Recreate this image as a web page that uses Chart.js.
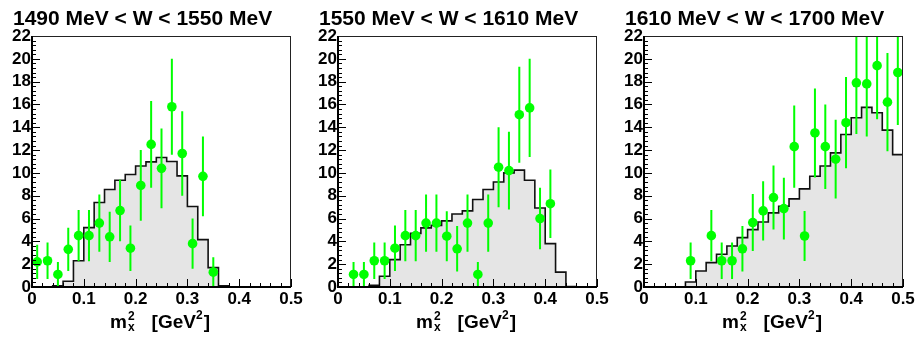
<!DOCTYPE html>
<html>
<head>
<meta charset="utf-8">
<script src="https://cdn.jsdelivr.net/npm/chart.js@4.4.1/dist/chart.umd.min.js"></script>
<style>
  body { margin: 0; background: #fff; }
  #wrap { position: relative; width: 918px; height: 341px; }
  .panel { position: absolute; top: 0; width: 306px; height: 341px; }
</style>
</head>
<body>
<div id="wrap">
  <div class="panel" style="left:0px"><canvas id="c0" width="306" height="341"></canvas></div>
  <div class="panel" style="left:306px"><canvas id="c1" width="306" height="341"></canvas></div>
  <div class="panel" style="left:612px"><canvas id="c2" width="306" height="341"></canvas></div>
</div>
<script>
// bin edges of the m_x^2 histograms (GeV^2)
const binEdges = [0, 0.02, 0.04, 0.06, 0.08, 0.1, 0.12, 0.14, 0.16, 0.18, 0.2, 0.22, 0.24,
                  0.26, 0.28, 0.3, 0.32, 0.34, 0.36, 0.38, 0.4, 0.42, 0.44, 0.46, 0.48, 0.5];
const xTickLabels = ['0', '0.1', '0.2', '0.3', '0.4', '0.5'];
const yTickLabels = ['0', '2', '4', '6', '8', '10', '12', '14', '16', '18', '20', '22'];

const titles = ['1490 MeV < W < 1550 MeV', '1550 MeV < W < 1610 MeV', '1610 MeV < W < 1700 MeV'];

// simulated spectra (grey histograms), one value per bin
const simW1 = [0, 0, 0.1, 0.5, 2.3, 5.2, 7.4, 8.55, 9.36, 9.86, 10.6, 10.97, 11.35, 11.0, 9.74,
               7.05, 4.15, 1.7, 0.1, 0, 0, 0, 0, 0, 0];
const simW2 = [0, 0, 0, 0.15, 0.94, 2.4, 3.7, 4.7, 5.18, 5.4, 5.8, 6.4, 6.67, 7.67, 8.55,
               9.2, 10.0, 10.24, 9.36, 6.93, 3.8, 1.3, 0.05, 0, 0];
const simW3 = [0, 0, 0, 0, 0.44, 1.4, 2.14, 2.87, 3.6, 4.33, 5.03, 5.7, 6.5, 7.08, 7.72,
               8.6, 9.71, 10.6, 11.76, 13.37, 14.83, 15.74, 15.27, 13.75, 11.6];

// measured points (green) with errors
const dataXW1 = [0.01, 0.03, 0.05, 0.07, 0.09, 0.11, 0.13, 0.15, 0.17, 0.19, 0.21, 0.23, 0.25, 0.27, 0.29, 0.31, 0.33, 0.35];
const dataYW1 = [2.2, 2.3, 1.1, 3.3, 4.5, 4.5, 5.6, 4.4, 6.7, 3.4, 8.9, 12.5, 10.4, 15.8, 11.7, 3.8, 9.7, 1.3];
const errW1   = [1.5, 1.6, 1.1, 1.9, 2.25, 2.25, 2.5, 2.2, 2.7, 2.0, 3.1, 3.8, 3.5, 4.2, 3.7, 2.2, 3.5, 1.3];

const dataXW2 = [0.03, 0.05, 0.07, 0.09, 0.11, 0.13, 0.15, 0.17, 0.19, 0.21, 0.23, 0.25, 0.27, 0.29, 0.31, 0.33, 0.35, 0.37, 0.39, 0.41];
const dataYW2 = [1.1, 1.1, 2.3, 2.3, 3.4, 4.5, 4.5, 5.6, 5.6, 4.45, 3.35, 5.6, 1.1, 5.6, 10.5, 10.2, 15.1, 15.7, 6.0, 7.3];
const errW2   = [1.1, 1.1, 1.6, 1.6, 2.0, 2.25, 2.25, 2.5, 2.5, 2.2, 2.0, 2.5, 1.1, 2.5, 3.5, 3.4, 4.2, 4.3, 2.7, 3.0];

const dataXW3 = [0.09, 0.13, 0.15, 0.17, 0.19, 0.21, 0.23, 0.25, 0.27, 0.29, 0.31, 0.33, 0.35, 0.37, 0.39, 0.41, 0.43, 0.45, 0.47, 0.49];
const dataYW3 = [2.3, 4.5, 2.3, 2.3, 3.35, 5.65, 6.67, 7.84, 6.87, 12.3, 4.47, 13.5, 12.3, 11.2, 14.4, 17.9, 17.8, 19.4, 16.2, 18.8];
const errW3   = [1.6, 2.25, 1.6, 1.6, 2.0, 2.5, 2.6, 2.8, 2.7, 3.6, 2.2, 3.9, 3.7, 3.45, 4.0, 4.5, 4.6, 4.7, 4.3, 4.6];

const FONT = "'Liberation Sans', Arial, Helvetica, sans-serif";
const GREEN = '#00ff00';

// panel title, top left
const titlePlugin = {
  id: 'panelTitle',
  afterDraw(chart, args, opts) {
    const ctx = chart.ctx;
    ctx.save();
    ctx.font = 'bold 21px ' + FONT;
    ctx.fillStyle = '#000';
    ctx.textBaseline = 'alphabetic';
    ctx.fillText(opts.text, 13, 25);
    ctx.restore();
  }
};

// frame with ROOT style inward ticks
const framePlugin = {
  id: 'rootFrame',
  afterDraw(chart) {
    const { ctx, chartArea: a, scales } = chart;
    const x = scales.x, y = scales.y;
    ctx.save();
    ctx.strokeStyle = '#000';
    ctx.lineWidth = 1;
    ctx.beginPath();
    for (let k = 0; k <= 55; k++) {
      const py = Math.round(y.getPixelForValue(k * 0.4)) + 0.5;
      const len = k % 5 === 0 ? 8 : 4;
      ctx.moveTo(a.left, py);
      ctx.lineTo(a.left + len, py);
    }
    for (let k = 0; k <= 25; k++) {
      const px = Math.round(x.getPixelForValue(k * 0.02)) + 0.5;
      const len = k % 5 === 0 ? 8 : 4;
      ctx.moveTo(px, a.bottom);
      ctx.lineTo(px, a.bottom - len);
    }
    ctx.stroke();
    ctx.strokeStyle = '#222';
    ctx.strokeRect(a.left + 0.5, a.top + 0.5, a.right - a.left - 1, a.bottom - a.top - 1);
    ctx.strokeStyle = '#000';
    ctx.lineWidth = 2;
    ctx.beginPath();
    ctx.moveTo(a.left, a.top);
    ctx.lineTo(a.left, a.bottom);
    ctx.lineTo(a.right, a.bottom);
    ctx.stroke();

    // axis title m_x^2 [GeV^2]
    const big = 'bold 19px ' + FONT, small = 'bold 12px ' + FONT;
    ctx.font = big;
    const wm = ctx.measureText('m').width;
    const wg = ctx.measureText('[GeV').width;
    const wb = ctx.measureText(']').width;
    ctx.font = small;
    const ws = ctx.measureText('2').width;
    const wx = ctx.measureText('x').width;
    const gap = 17;
    const total = wm + Math.max(ws, wx) + gap + wg + ws + 1 + wb;
    let cx = (a.left + a.right) / 2 - total / 2 - 2;
    const base = 328;
    ctx.fillStyle = '#000';
    ctx.textBaseline = 'alphabetic';
    ctx.font = big;
    ctx.fillText('m', cx, base);
    cx += wm + 1;
    ctx.font = small;
    ctx.fillText('2', cx, base - 8);
    ctx.fillText('x', cx, base + 3);
    cx += Math.max(ws, wx) + gap;
    ctx.font = big;
    ctx.fillText('[GeV', cx, base);
    cx += wg;
    ctx.font = small;
    ctx.fillText('2', cx, base - 9);
    cx += ws + 1;
    ctx.font = big;
    ctx.fillText(']', cx, base);
    ctx.restore();
  }
};

// vertical error bars drawn under the markers
const errorBarPlugin = {
  id: 'errorBars',
  beforeDatasetDraw(chart, args) {
    const ds = chart.data.datasets[args.index];
    if (!ds.errors) return;
    const { ctx, chartArea: a, scales } = chart;
    ctx.save();
    ctx.beginPath();
    ctx.rect(a.left, a.top, a.right - a.left, a.bottom - a.top);
    ctx.clip();
    ctx.strokeStyle = GREEN;
    ctx.lineWidth = 2;
    ctx.beginPath();
    ds.data.forEach((p, i) => {
      const px = scales.x.getPixelForValue(p.x);
      ctx.moveTo(px, scales.y.getPixelForValue(p.y - ds.errors[i]));
      ctx.lineTo(px, scales.y.getPixelForValue(p.y + ds.errors[i]));
    });
    ctx.stroke();
    ctx.restore();
  }
};

function makePanel(id, title, sim, xs, ys, errs) {
  const histPts = binEdges.map((e, i) => ({ x: e, y: sim[Math.min(i, sim.length - 1)] }));
  const dataPts = xs.map((v, i) => ({ x: v, y: ys[i] }));
  return new Chart(document.getElementById(id), {
    type: 'line',
    data: {
      datasets: [
        {
          label: 'data',
          data: dataPts,
          errors: errs,
          showLine: false,
          pointRadius: 4.8,
          pointBackgroundColor: GREEN,
          pointBorderWidth: 0,
          order: 0
        },
        {
          label: 'simulation',
          data: histPts,
          stepped: true,
          fill: 'origin',
          backgroundColor: '#e5e5e5',
          borderColor: '#111',
          borderWidth: 1.6,
          pointRadius: 0,
          order: 1
        }
      ]
    },
    options: {
      responsive: false,
      animation: false,
      events: [],
      layout: { padding: { top: 36, right: 15, left: 0, bottom: 0 } },
      plugins: {
        legend: { display: false },
        tooltip: { enabled: false },
        panelTitle: { text: title }
      },
      scales: {
        x: {
          type: 'linear',
          min: 0,
          max: 0.5,
          border: { display: false },
          grid: { display: false, drawTicks: false },
          afterBuildTicks: s => { s.ticks = xTickLabels.map(t => ({ value: parseFloat(t) })); },
          afterFit: s => { s.height = 54; },
          ticks: {
            padding: 2,
            maxRotation: 0,
            autoSkip: false,
            color: '#000',
            font: { family: FONT, size: 17, weight: 'bold' },
            callback: (v, i) => xTickLabels[i]
          }
        },
        y: {
          min: 0,
          max: 22,
          border: { display: false },
          grid: { display: false, drawTicks: false },
          afterBuildTicks: s => { s.ticks = yTickLabels.map(t => ({ value: parseFloat(t) })); },
          afterFit: s => { s.width = 32; },
          ticks: {
            padding: 1,
            autoSkip: false,
            color: '#000',
            font: { family: FONT, size: 17, weight: 'bold' },
            callback: (v, i) => yTickLabels[i]
          }
        }
      }
    },
    plugins: [errorBarPlugin, framePlugin, titlePlugin]
  });
}

makePanel('c0', titles[0], simW1, dataXW1, dataYW1, errW1);
makePanel('c1', titles[1], simW2, dataXW2, dataYW2, errW2);
makePanel('c2', titles[2], simW3, dataXW3, dataYW3, errW3);
</script>
</body>
</html>
